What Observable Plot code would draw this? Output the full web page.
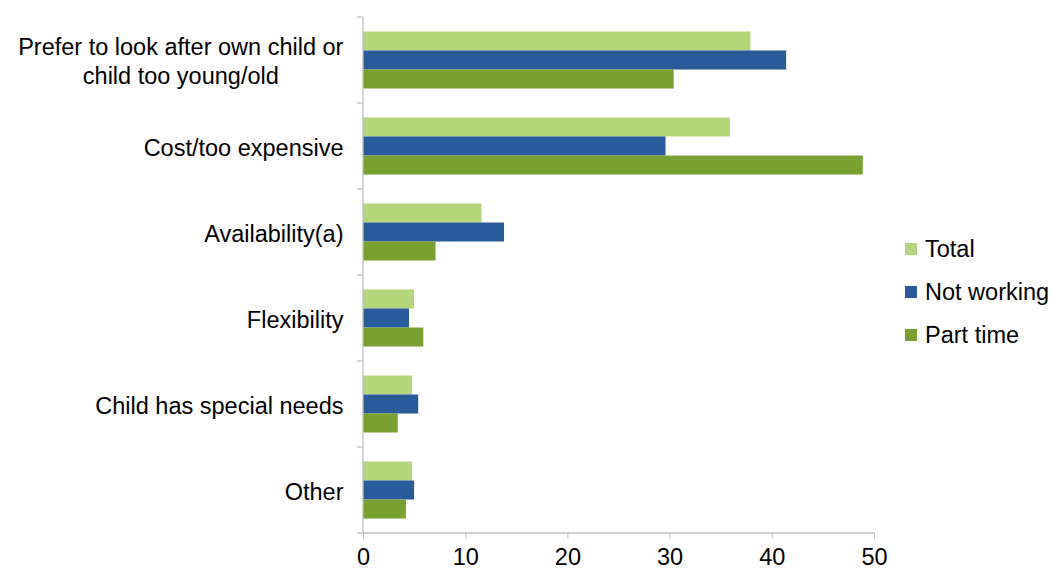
<!DOCTYPE html>
<html>
<head>
<meta charset="utf-8">
<script src="https://cdn.jsdelivr.net/npm/d3@7"></script>
<script src="https://cdn.jsdelivr.net/npm/@observablehq/plot@0.6"></script>
<style>
  html, body { margin: 0; padding: 0; background: #fff; }
  #wrap { position: relative; width: 1058px; height: 571px; font-family: "Liberation Sans", Arial, sans-serif; }
  #legend { position: absolute; left: 905px; top: 237px; font-size: 23.5px; color: #000; }
  .item { display: flex; align-items: center; height: 24px; margin-bottom: 19px; white-space: nowrap; }
  .sw { width: 12px; height: 12px; margin-right: 8px; flex: none; }
</style>
</head>
<body>
<div id="wrap"></div>
<script>
const categories = [
  "Prefer to look after own child or\nchild too young/old",
  "Cost/too expensive",
  "Availability(a)",
  "Flexibility",
  "Child has special needs",
  "Other"
];
const series = ["Total", "Not working", "Part time"];
const total      = [37.9, 35.9, 11.6, 5.0, 4.8, 4.8];
const notWorking = [41.4, 29.6, 13.8, 4.5, 5.4, 5.0];
const partTime   = [30.4, 48.9,  7.1, 5.9, 3.4, 4.2];
const xTicks = [0, 10, 20, 30, 40, 50];
const colors = ["#b3d67a", "#275b9a", "#78a132"];

const valuesBySeries = [total, notWorking, partTime];
const data = [];
categories.forEach((c, i) => {
  series.forEach((s, j) => data.push({category: c, series: s, value: valuesBySeries[j][i]}));
});

const axisGray = "#bfbfbf";
const font = "'Liberation Sans', Arial, sans-serif";
const fs = 23.5;

const plot = Plot.plot({
  width: 1058,
  height: 571,
  marginLeft: 363,
  marginRight: 184,
  marginTop: 17,
  marginBottom: 38,
  style: {fontFamily: font, fontSize: fs + "px", color: "#000", background: "#fff"},
  x: {domain: [0, 50], axis: null},
  y: {domain: series, axis: null, paddingInner: 0, paddingOuter: 0.76, round: false},
  fy: {domain: categories, padding: 0, axis: null, round: false},
  color: {domain: series, range: colors},
  marks: [
    Plot.barX(data, {fy: "category", y: "series", x: "value", fill: "series"}),
    Plot.axisFy({anchor: "left", tickSize: 0, tickPadding: 20, fontSize: fs, lineHeight: 1.2, label: null, fill: "#000"}),
    Plot.axisX({anchor: "bottom", ticks: xTicks, tickSize: 6, tickPadding: 9, stroke: axisGray, fill: "#000", fontSize: fs, label: null, tickFormat: d => String(d)})
  ]
});

const wrap = document.getElementById("wrap");
wrap.appendChild(plot);

// axis lines and category boundary ticks from the plot's own scales
const xs = plot.scale("x");
const fys = plot.scale("fy");
const svg = d3.select(plot);
const x0 = xs.apply(0), x1 = xs.apply(50);
const r0 = Math.min(...fys.range), r1 = Math.max(...fys.range);
const step = (r1 - r0) / fys.domain.length;
const g = svg.append("g").attr("stroke", axisGray).attr("stroke-width", 1.3);
g.append("line").attr("x1", x0).attr("x2", x0).attr("y1", r0).attr("y2", r1);
g.append("line").attr("x1", x0).attr("x2", x1).attr("y1", r1).attr("y2", r1);
for (let i = 0; i <= fys.domain.length; i++) {
  const y = r0 + i * step;
  g.append("line").attr("x1", x0 - 6).attr("x2", x0).attr("y1", y).attr("y2", y);
}

// center multi-line category labels (as in the original)
svg.selectAll("text").each(function() {
  const t = d3.select(this);
  if (t.selectAll("tspan").size() > 1) {
    const w = this.getBBox().width;
    t.attr("text-anchor", "middle");
    const tr = t.attr("transform") || "";
    t.attr("transform", tr + ` translate(${-w / 2},0)`);
  }
});

// legend
const legend = document.createElement("div");
legend.id = "legend";
series.forEach((s, j) => {
  const item = document.createElement("div");
  item.className = "item";
  const sw = document.createElement("div");
  sw.className = "sw";
  sw.style.background = colors[j];
  const lab = document.createElement("span");
  lab.textContent = s;
  item.appendChild(sw);
  item.appendChild(lab);
  legend.appendChild(item);
});
wrap.appendChild(legend);
</script>
</body>
</html>
